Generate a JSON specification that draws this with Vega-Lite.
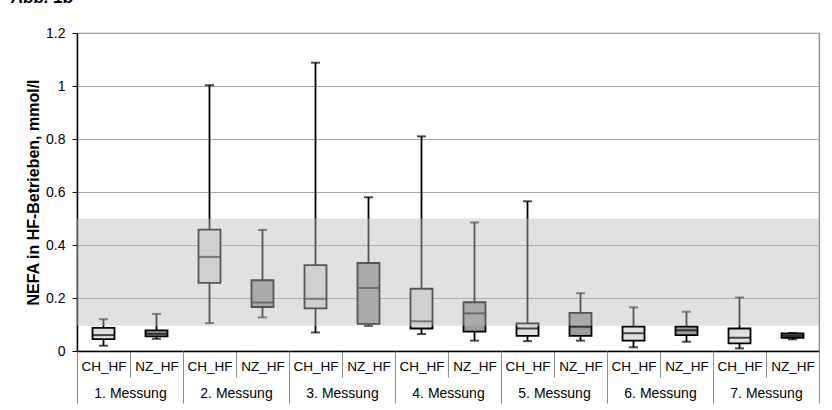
{
  "$schema": "https://vega.github.io/schema/vega-lite/v6.json",
  "width": 742,
  "height": 318,
  "autosize": {"type": "none"},
  "padding": {"left": 77, "top": 33, "right": 13, "bottom": 59},
  "background": "white",
  "title": {"text": "Abb. 1b", "anchor": "start", "frame": "group", "dx": -66, "dy": 13, "offset": 19, "baseline": "alphabetic", "fontSize": 17, "fontStyle": "italic", "fontWeight": "bold", "font": "Liberation Sans", "color": "black"},
  "config": {
    "view": {"stroke": "#808080", "strokeWidth": 1.2},
    "font": "Liberation Sans",
    "axis": {"labelFont": "Liberation Sans", "titleFont": "Liberation Sans", "labelColor": "black", "titleColor": "black"}
  },
  "layer": [
    {
      "data": {"values": [
        {"key": "1. Messung|CH_HF", "Gruppe": "CH_HF", "min": 0.02, "q1": 0.045, "median": 0.06, "q3": 0.087, "max": 0.12},
        {"key": "1. Messung|NZ_HF", "Gruppe": "NZ_HF", "min": 0.046, "q1": 0.055, "median": 0.065, "q3": 0.078, "max": 0.14},
        {"key": "2. Messung|CH_HF", "Gruppe": "CH_HF", "min": 0.105, "q1": 0.257, "median": 0.355, "q3": 0.458, "max": 1.003},
        {"key": "2. Messung|NZ_HF", "Gruppe": "NZ_HF", "min": 0.127, "q1": 0.166, "median": 0.183, "q3": 0.267, "max": 0.457},
        {"key": "3. Messung|CH_HF", "Gruppe": "CH_HF", "min": 0.07, "q1": 0.161, "median": 0.197, "q3": 0.324, "max": 1.088},
        {"key": "3. Messung|NZ_HF", "Gruppe": "NZ_HF", "min": 0.095, "q1": 0.102, "median": 0.238, "q3": 0.332, "max": 0.58},
        {"key": "4. Messung|CH_HF", "Gruppe": "CH_HF", "min": 0.064, "q1": 0.085, "median": 0.112, "q3": 0.235, "max": 0.81},
        {"key": "4. Messung|NZ_HF", "Gruppe": "NZ_HF", "min": 0.039, "q1": 0.073, "median": 0.142, "q3": 0.184, "max": 0.485},
        {"key": "5. Messung|CH_HF", "Gruppe": "CH_HF", "min": 0.037, "q1": 0.057, "median": 0.085, "q3": 0.104, "max": 0.565},
        {"key": "5. Messung|NZ_HF", "Gruppe": "NZ_HF", "min": 0.039, "q1": 0.057, "median": 0.092, "q3": 0.144, "max": 0.218},
        {"key": "6. Messung|CH_HF", "Gruppe": "CH_HF", "min": 0.014, "q1": 0.039, "median": 0.067, "q3": 0.092, "max": 0.165},
        {"key": "6. Messung|NZ_HF", "Gruppe": "NZ_HF", "min": 0.035, "q1": 0.06, "median": 0.078, "q3": 0.092, "max": 0.148},
        {"key": "7. Messung|CH_HF", "Gruppe": "CH_HF", "min": 0.01, "q1": 0.029, "median": 0.05, "q3": 0.085, "max": 0.202},
        {"key": "7. Messung|NZ_HF", "Gruppe": "NZ_HF", "min": 0.044, "q1": 0.05, "median": 0.057, "q3": 0.066, "max": 0.068}
      ]},
      "encoding": {
        "x": {
          "field": "key", "type": "nominal", "sort": null,
          "scale": {"paddingInner": 0, "paddingOuter": 0},
          "axis": {
            "orient": "bottom", "title": null,
            "labelExpr": "split(datum.value, '|')[1]",
            "labelAngle": 0, "labelFontSize": 13.5, "labelOverlap": false,
            "tickBand": "extent", "tickSize": 26, "tickColor": "#8c8c8c", "tickWidth": 1,
            "labelPadding": -18, "domainColor": "black", "domainWidth": 1.5, "grid": false
          }
        }
      },
      "layer": [
        {
          "mark": {"type": "rule", "color": "black", "strokeWidth": 1.8},
          "encoding": {
            "y": {"field": "min", "type": "quantitative", "scale": {"domain": [0, 1.2], "nice": false},
              "axis": {
                "title": "NEFA in HF-Betrieben, mmol/l", "titleFontSize": 16, "titleFontWeight": "bold", "titlePadding": 4,
                "values": [0, 0.2, 0.4, 0.6, 0.8, 1, 1.2], "format": "~g",
                "labelFontSize": 14, "labelPadding": 7, "tickSize": 5, "tickColor": "black",
                "domainColor": "black", "domainWidth": 1.5,
                "grid": true, "gridColor": "#a6a6a6", "gridWidth": 1.2
              }},
            "y2": {"field": "max"}
          }
        },
        {
          "mark": {"type": "tick", "color": "black", "size": 9, "thickness": 2},
          "encoding": {"y": {"field": "min", "type": "quantitative"}}
        },
        {
          "mark": {"type": "tick", "color": "black", "size": 9, "thickness": 2},
          "encoding": {"y": {"field": "max", "type": "quantitative"}}
        },
        {
          "mark": {"type": "bar", "size": 22, "stroke": "black", "strokeWidth": 1.8},
          "encoding": {
            "y": {"field": "q1", "type": "quantitative"},
            "y2": {"field": "q3"},
            "fill": {"field": "Gruppe", "type": "nominal", "legend": null,
              "scale": {"domain": ["CH_HF", "NZ_HF"], "range": ["#e0e0e0", "#9c9c9c"]}}
          }
        },
        {
          "mark": {"type": "tick", "color": "black", "size": 22, "thickness": 2},
          "encoding": {"y": {"field": "median", "type": "quantitative"}}
        }
      ]
    },
    {
      "data": {"values": [
        {"Messung": "1. Messung"}, {"Messung": "2. Messung"}, {"Messung": "3. Messung"},
        {"Messung": "4. Messung"}, {"Messung": "5. Messung"}, {"Messung": "6. Messung"},
        {"Messung": "7. Messung"}
      ]},
      "mark": {"type": "rect", "fill": "#bdbdbd", "opacity": 0.45},
      "encoding": {
        "x": {
          "field": "Messung", "type": "nominal", "sort": null,
          "scale": {"paddingInner": 0, "paddingOuter": 0},
          "axis": {
            "orient": "bottom", "title": null, "labelAngle": 0, "labelFontSize": 14, "labelOverlap": false,
            "tickBand": "extent", "tickSize": 52, "tickColor": "#8c8c8c", "tickWidth": 1,
            "labelPadding": -17, "domain": false, "grid": false
          }
        },
        "y": {"datum": 0.095, "type": "quantitative"},
        "y2": {"datum": 0.5}
      }
    }
  ],
  "resolve": {"scale": {"x": "independent"}, "axis": {"x": "independent"}}
}
